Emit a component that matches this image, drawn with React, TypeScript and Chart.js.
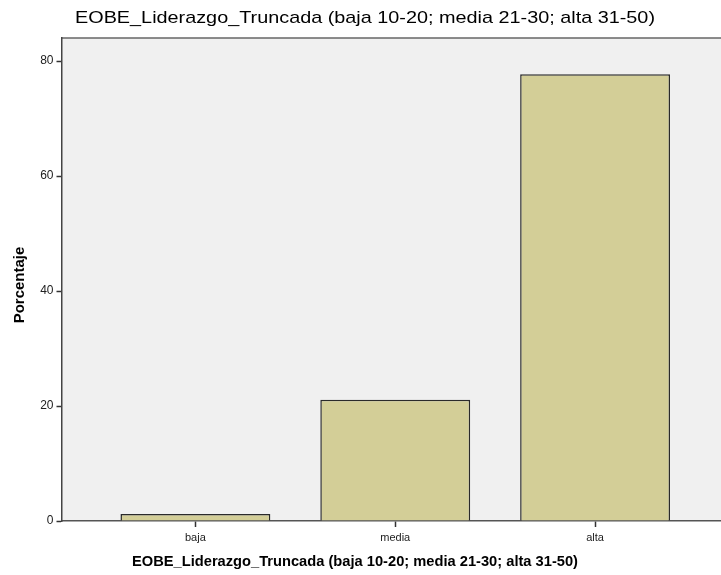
import React, { useEffect, useRef } from "react";
import { Chart, registerables } from "chart.js";

Chart.register(...registerables);

const categories = ["baja", "media", "alta"];
const percentages = [1.2, 21.1, 77.7];
const yTicks = [0, 20, 40, 60, 80];
const mainTitle = "EOBE_Liderazgo_Truncada (baja 10-20; media 21-30; alta 31-50)";
const xTitle = "EOBE_Liderazgo_Truncada (baja 10-20; media 21-30; alta 31-50)";
const yTitle = "Porcentaje";

const FONT = "'Liberation Sans', Arial, sans-serif";

const framePlugin = {
  id: "spssFrame",
  beforeDraw(chart: any) {
    const { ctx, chartArea } = chart;
    ctx.save();
    ctx.fillStyle = "#F0F0F0";
    ctx.fillRect(chartArea.left, chartArea.top, chartArea.right - chartArea.left, chartArea.bottom - chartArea.top);
    ctx.strokeStyle = "#666666";
    ctx.lineWidth = 1.5;
    ctx.beginPath();
    ctx.moveTo(chartArea.left, chartArea.top);
    ctx.lineTo(chartArea.right, chartArea.top);
    ctx.stroke();
    ctx.restore();
  },
  afterDraw(chart: any) {
    const { ctx } = chart;
    ctx.save();
    ctx.fillStyle = "#000000";
    ctx.textBaseline = "middle";
    ctx.textAlign = "center";
    ctx.font = `17px ${FONT}`;
    const w = ctx.measureText(mainTitle).width;
    ctx.save();
    ctx.translate(365, 18);
    ctx.scale(580 / w, 1);
    ctx.fillText(mainTitle, 0, 0);
    ctx.restore();
    ctx.font = `bold 15px ${FONT}`;
    ctx.fillText(xTitle, 355, 562, 446);
    ctx.translate(20, 285);
    ctx.rotate(-Math.PI / 2);
    ctx.fillText(yTitle, 0, 0, 84);
    ctx.restore();
  },
};

export default function App() {
  const ref = useRef<HTMLCanvasElement>(null);
  useEffect(() => {
    const canvas = ref.current!;
    const chart = new Chart(canvas, {
      type: "bar",
      data: {
        datasets: [
          {
            data: categories.map((c, i) => ({ x: i, y: percentages[i] })),
            backgroundColor: "#D3CE97",
            borderColor: "#2A2A2A",
            borderWidth: 1.5,
            barPercentage: 0.75,
            categoryPercentage: 1,
          },
        ],
      },
      options: {
        responsive: false,
        animation: false,
        layout: { padding: { left: 0, top: 38, right: 0, bottom: 29 } },
        plugins: { legend: { display: false }, tooltip: { enabled: false }, title: { display: false } },
        scales: {
          x: {
            type: "linear",
            offset: false,
            min: -0.67,
            max: 2.63,
            afterBuildTicks: (scale: any) => {
              scale.ticks = categories.map((_, i) => ({ value: i }));
            },
            afterFit: (scale: any) => {
              scale.height = 25;
            },
            ticks: {
              callback: (v: any) => categories[v] ?? "",
              color: "#222222",
              font: { family: FONT, size: 11 },
              padding: 4,
              maxRotation: 0,
            },
            grid: { offset: false, drawOnChartArea: false, tickLength: 6, tickColor: "#333333", tickWidth: 1.5 },
            border: { display: true, color: "#555555", width: 1.5 },
          },
          y: {
            min: 0,
            max: 84,
            afterBuildTicks: (scale: any) => {
              scale.ticks = yTicks.map((v) => ({ value: v }));
            },
            afterFit: (scale: any) => {
              scale.width = 61.5;
            },
            ticks: {
              color: "#222222",
              font: { family: FONT, size: 12 },
              padding: 3,
            },
            grid: { drawOnChartArea: false, tickLength: 5, tickColor: "#333333", tickWidth: 1.5 },
            border: { display: true, color: "#444444", width: 1.5 },
          },
        },
      } as any,
      plugins: [framePlugin],
    });
    return () => chart.destroy();
  }, []);
  return (
    <div style={{ position: "absolute", left: 0, top: 0, width: 721, height: 575, background: "#fff" }}>
      <canvas ref={ref} width={721} height={575} />
    </div>
  );
}
